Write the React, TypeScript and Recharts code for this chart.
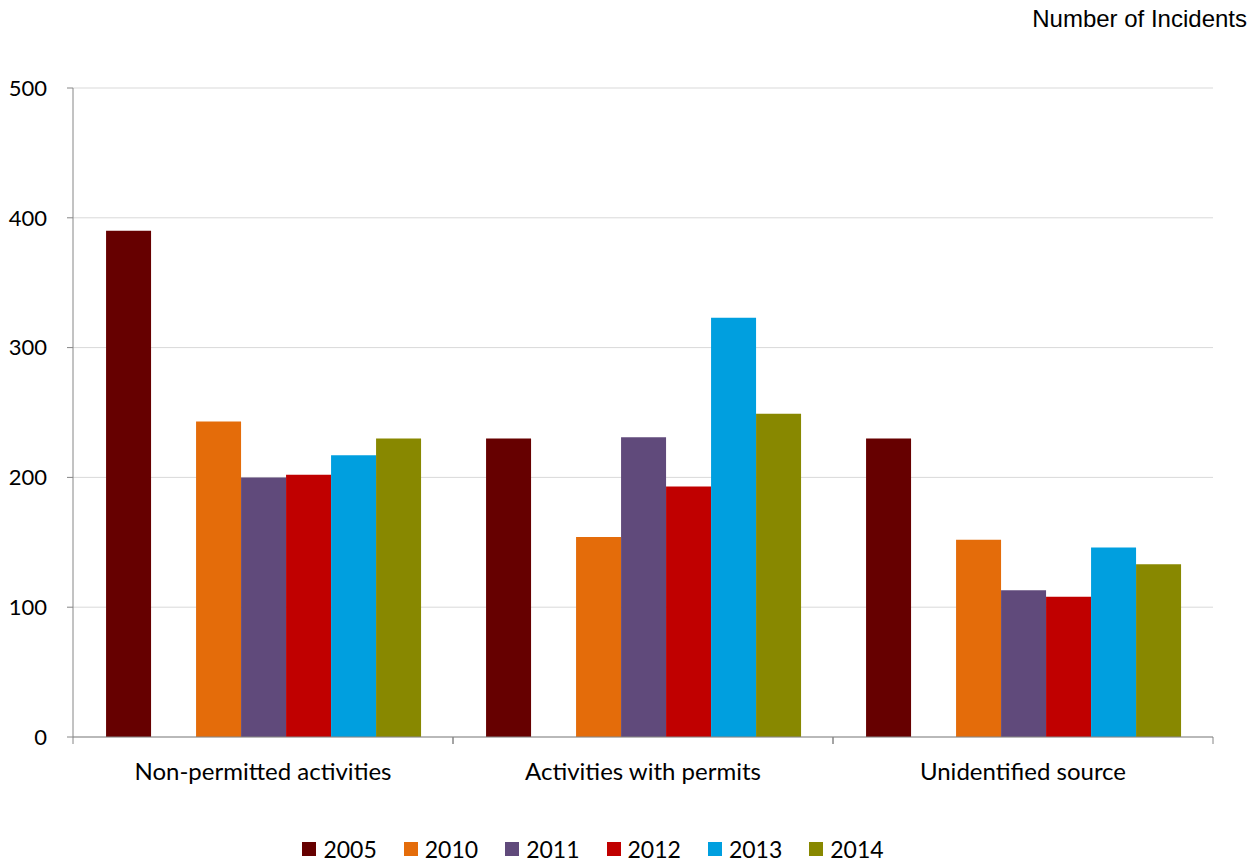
import { Bar, BarChart, CartesianGrid, Legend, XAxis, YAxis } from 'recharts';

const categories = ['Non-permitted activities', 'Activities with permits', 'Unidentified source'];
const years = ['2005', '2010', '2011', '2012', '2013', '2014'];
const v2005 = [390, 230, 230];
const v2010 = [243, 154, 152];
const v2011 = [200, 231, 113];
const v2012 = [202, 193, 108];
const v2013 = [217, 323, 146];
const v2014 = [230, 249, 133];
const yTicks = [0, 100, 200, 300, 400, 500];

const colors: Record<string, string> = {
  '2005': '#660000',
  '2010': '#E46C0A',
  '2011': '#604A7B',
  '2012': '#C00000',
  '2013': '#009FDF',
  '2014': '#888800',
};

const series = [v2005, v2010, v2011, v2012, v2013, v2014];
const data = categories.map((name, i) => {
  const row: Record<string, string | number> = { name };
  years.forEach((y, k) => {
    row[y] = series[k][i];
  });
  return row;
});

const FONT = 'Lato, "Open Sans", sans-serif';

// category label plus tick marks at the band edges (like Excel)
function CategoryTick(props: any) {
  const { x, y, payload, bandSize } = props;
  const half = (bandSize ?? 380) / 2;
  return (
    <g>
      <line x1={x - half} x2={x - half} y1={y - 8} y2={y - 1} stroke="#868686" />
      <line x1={x + half} x2={x + half} y1={y - 8} y2={y - 1} stroke="#868686" />
      <text x={x} y={y + 35} textAnchor="middle" fontSize={24} fontFamily={FONT} fill="#000">
        {payload.value}
      </text>
    </g>
  );
}

function LegendContent() {
  return (
    <div style={{ display: 'flex', justifyContent: 'center', fontFamily: FONT, fontSize: 23, lineHeight: '28px' }}>
      {years.map((y) => (
        <div key={y} style={{ display: 'flex', alignItems: 'center', marginRight: 27 }}>
          <span style={{ width: 14, height: 14, background: colors[y], display: 'inline-block', marginRight: 7 }} />
          <span>{y}</span>
        </div>
      ))}
    </div>
  );
}

export default function App() {
  return (
    <div style={{ position: 'absolute', left: 0, top: 0, width: 1258, height: 862, background: '#fff' }}>
      <div
        style={{
          position: 'absolute',
          right: 11,
          top: 5,
          fontFamily: '"Liberation Sans", Arial, sans-serif',
          fontSize: 24,
          color: '#000',
        }}
      >
        Number of Incidents
      </div>
      <BarChart
        width={1258}
        height={862}
        data={data}
        margin={{ top: 88, right: 45, left: 0, bottom: 37 }}
        barCategoryGap="8.7%"
        barGap={0}
      >
        <CartesianGrid vertical={false} stroke="#d9d9d9" />
        <XAxis
          dataKey="name"
          height={60}
          axisLine={{ stroke: '#868686' }}
          tickLine={false}
          interval={0}
          tick={<CategoryTick bandSize={380} />}
        />
        <YAxis
          width={73}
          domain={[0, 500]}
          ticks={yTicks}
          axisLine={{ stroke: '#868686' }}
          tickLine={{ stroke: '#868686' }}
          tickSize={6}
          tickMargin={20}
          tick={{ fontSize: 22, fontFamily: FONT, fill: '#000' }}
        />
        <Legend
          verticalAlign="bottom"
          content={<LegendContent />}
          wrapperStyle={{ bottom: -1 }}
        />
        <Bar dataKey="2005" fill={colors['2005']} isAnimationActive={false} />
        <Bar dataKey="gap" fill="none" legendType="none" isAnimationActive={false} />
        {years.slice(1).map((y) => (
          <Bar key={y} dataKey={y} fill={colors[y]} isAnimationActive={false} />
        ))}
      </BarChart>
    </div>
  );
}
